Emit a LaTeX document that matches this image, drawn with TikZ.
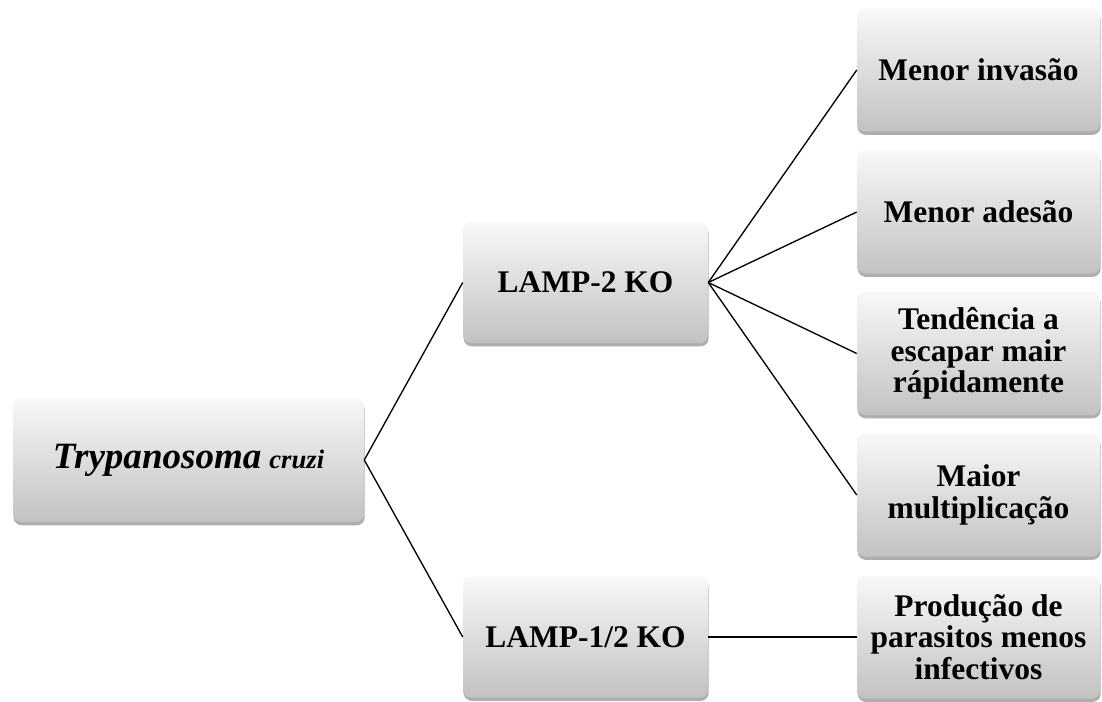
\documentclass[tikz,border=0pt]{standalone}
\usepackage{fontspec}
\setmainfont{Liberation Serif}
\usetikzlibrary{shadows}
\definecolor{boxtop}{HTML}{F8F8F8}
\definecolor{boxbot}{HTML}{C2C2C2}
\tikzset{
  gbox/.style={rectangle, rounded corners=6pt, inner sep=0pt, align=center,
    top color=boxtop, bottom color=boxbot, draw=none,
    drop shadow={shadow xshift=0.5pt, shadow yshift=-2.5pt, opacity=0.45, fill=black!70},
    font=\fontsize{23.6}{23.8}\selectfont\bfseries},
  rootbox/.style={gbox, minimum width=351*0.75pt, minimum height=124*0.75pt},
  midbox/.style={gbox, minimum width=245*0.75pt, minimum height=121*0.75pt},
  rightbox/.style={gbox, minimum width=243*0.75pt, minimum height=123*0.75pt},
  conn/.style={draw=black, line width=1pt}
}
\begin{document}
\begin{tikzpicture}[x=0.75pt,y=-0.75pt]
\useasboundingbox (0,0) rectangle (1102,702);
\node[rootbox] (root) at (188.5,460) {{\fontsize{27.8}{28}\selectfont\bfseries\itshape Trypanosoma} {\fontsize{20}{22}\selectfont\bfseries\itshape cruzi}};
\node[midbox] (l2) at (585.5,282.5) {LAMP-2 KO};
\node[midbox] (l12) at (585.5,637) {LAMP-1/2 KO};
\node[rightbox] (r1) at (978.5,70) {Menor invasão};
\node[rightbox] (r2) at (978.5,212) {Menor adesão};
\node[rightbox] (r3) at (978.5,353.5) {Tendência a\\escapar mair\\rápidamente};
\node[rightbox] (r4) at (978.5,495) {Maior\\multiplicação};
\node[rightbox] (r5) at (978.5,637) {Produção de\\parasitos menos\\infectivos};
\draw[conn] (root.east) -- (l2.west);
\draw[conn] (root.east) -- (l12.west);
\draw[conn] (l2.east) -- (r1.west);
\draw[conn] (l2.east) -- (r2.west);
\draw[conn] (l2.east) -- (r3.west);
\draw[conn] (l2.east) -- (r4.west);
\draw[conn] (l12.east) -- (r5.west);
\end{tikzpicture}
\end{document}
